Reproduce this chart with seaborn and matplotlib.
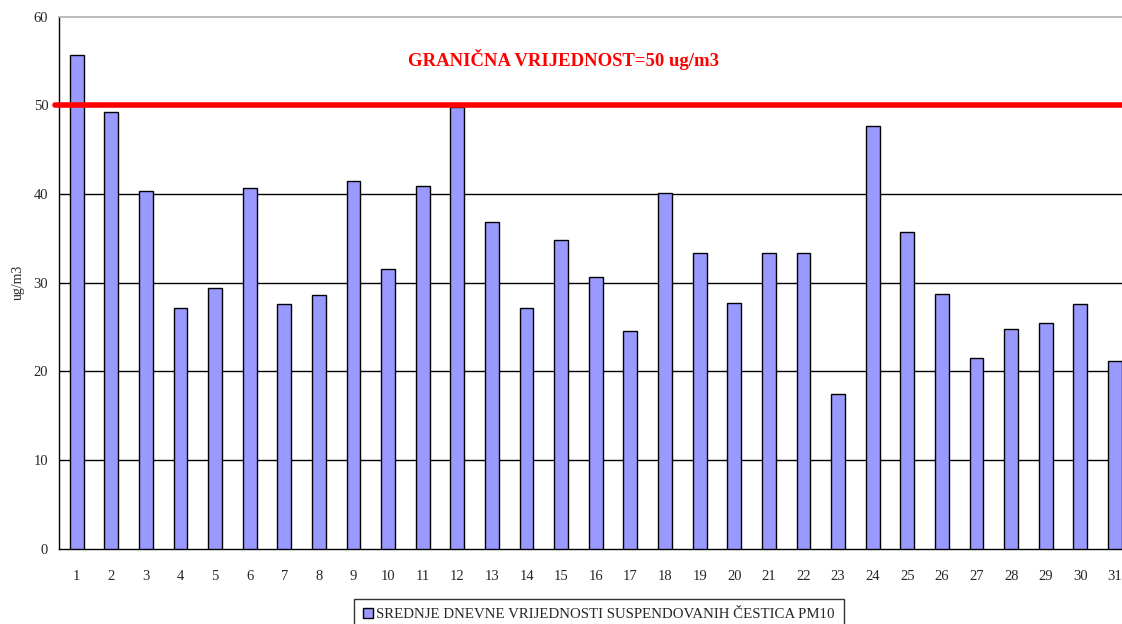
import numpy as np
import pandas as pd
import matplotlib
matplotlib.use("Agg")
import matplotlib.pyplot as plt
import seaborn as sns
from matplotlib.patches import Patch

# Daily mean PM10 values (ug/m3)
days = [str(d) for d in range(1, 32)]
pm10 = [55.7, 49.2, 40.3, 27.2, 29.4, 40.7, 27.6, 28.6, 41.5, 31.5,
        40.9, 49.8, 36.9, 27.1, 34.8, 30.6, 24.5, 40.1, 33.4, 27.7,
        33.4, 33.4, 17.5, 47.7, 35.7, 28.7, 21.5, 24.8, 25.4, 27.6,
        21.2]
limit_value = 50
y_ticks = [0, 10, 20, 30, 40, 50, 60]
series_label = "SREDNJE DNEVNE VRIJEDNOSTI SUSPENDOVANIH ČESTICA PM10"
limit_label = "GRANIČNA VRIJEDNOST=50 ug/m3"

df = pd.DataFrame({"day": days, "pm10": pm10})

sns.set_style("white")
plt.rcParams["font.family"] = ["Liberation Serif", "DejaVu Serif"]

fig = plt.figure(figsize=(11.22, 6.24), dpi=100)
W, H = 1122, 624
# axes area: x 59..1132 px (cut off at the right), y 17..549 px
ax = fig.add_axes([59.3 / W, 1 - 548.7 / H, (1132.3 - 59.3) / W, (548.7 - 16.7) / H])

bar_color = "#9999ff"
sns.barplot(data=df, x="day", y="pm10", order=days, color=bar_color,
            width=0.4, edgecolor="black", linewidth=1.0, saturation=1,
            ax=ax, zorder=3)

ax.set_xlim(-0.5, len(days) - 0.5)
ax.set_ylim(0, 60)
ax.set_yticks(y_ticks)
ax.set_yticklabels([str(v) for v in y_ticks], fontsize=10.5)
ax.set_xticklabels(days, fontsize=10.5)
ax.set_xlabel("")
ax.set_ylabel("ug/m3", fontsize=10, labelpad=6)

# grid lines
for v in y_ticks[1:-1]:
    ax.axhline(v, color="black", lw=1.0, zorder=1)

# ticks: category boundaries as minor ticks on x
ax.set_xticks(np.arange(-0.5, len(days), 1), minor=True)
ax.tick_params(axis="x", which="major", length=0, pad=15)
ax.tick_params(axis="x", which="minor", length=5, width=1, color="black", direction="out")
ax.tick_params(axis="y", which="major", length=5, width=1, color="black", direction="out", pad=3)

for side in ["left", "bottom"]:
    ax.spines[side].set_color("black")
    ax.spines[side].set_linewidth(1.0)
ax.spines["top"].set_color("#b0b0b0")
ax.spines["top"].set_linewidth(1.2)
ax.spines["right"].set_visible(False)

# limit value line and label
ax.axhline(limit_value, xmin=-0.004, xmax=1, color="#ff0000", lw=4, zorder=4,
           clip_on=False)
ax.text(564 / W, 1 - 60 / H, limit_label, transform=fig.transFigure,
        ha="center", va="center", color="#ff0000", fontsize=13.5,
        fontweight="bold")

handle = Patch(facecolor=bar_color, edgecolor="black", linewidth=1.0)
leg = fig.legend([handle], [series_label], loc="upper center",
                 bbox_to_anchor=(599 / W, 1 - 599 / H), frameon=True,
                 fancybox=False, fontsize=10.7, handlelength=0.7,
                 handleheight=0.7, handletextpad=0.2, borderpad=0.6,
                 borderaxespad=0)
leg.get_frame().set_edgecolor("black")
leg.get_frame().set_linewidth(1.0)

fig.savefig("out.png", dpi=100)
